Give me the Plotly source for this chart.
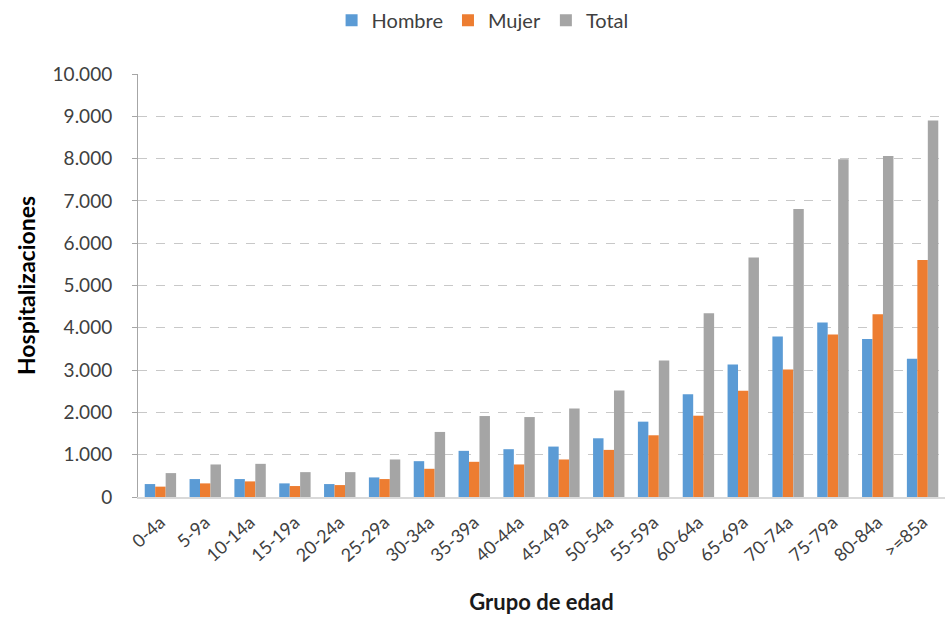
import plotly.graph_objects as go

grupos = ["0-4a", "5-9a", "10-14a", "15-19a", "20-24a", "25-29a", "30-34a", "35-39a",
          "40-44a", "45-49a", "50-54a", "55-59a", "60-64a", "65-69a", "70-74a",
          "75-79a", "80-84a", ">=85a"]
hombre = [306, 424, 424, 322, 306, 463, 847, 1091, 1130, 1192, 1388, 1781, 2432,
          3130, 3797, 4126, 3734, 3271]
mujer = [245, 322, 369, 259, 282, 424, 667, 832, 769, 887, 1114, 1459, 1922,
         2510, 3012, 3844, 4322, 5600]
total = [565, 769, 784, 588, 588, 887, 1538, 1914, 1890, 2094, 2518, 3224, 4345,
         5663, 6808, 7985, 8064, 8900]

series = [("Hombre", hombre, "#5B9BD5"), ("Mujer", mujer, "#ED7D31"), ("Total", total, "#A5A5A5")]

fig = go.Figure()
for name, vals, color in series:
    fig.add_trace(go.Bar(x=grupos, y=vals, name=name, marker_color=color,
                         marker_line_width=0))

font = "Lato, 'Open Sans', sans-serif"
fig.update_layout(
    width=946, height=618,
    margin=dict(l=138, r=1, t=72, b=121),
    paper_bgcolor="white", plot_bgcolor="white",
    barmode="group", bargap=0.3, bargroupgap=0,
    separators=",.",
    font=dict(family=font, size=18, color="#404040"),
    legend=dict(orientation="h", x=0.427, xanchor="center", y=1.127, yanchor="middle",
                font=dict(size=20, color="#404040"), itemwidth=30, traceorder="normal"),
    xaxis=dict(
        tickangle=-42, tickfont=dict(size=18), ticklabelstandoff=6,
        showline=True, linecolor="#D9D9D9", linewidth=2,
        title=dict(text="<b>Grupo de edad</b>", font=dict(size=22, color="#1a1a1a"), standoff=30),
    ),
    yaxis=dict(
        range=[0, 10000], dtick=1000, tickformat=",d",
        showgrid=True, gridcolor="#C8C8C8", griddash="dash", gridwidth=1,
        showline=True, linecolor="#A6A6A6", linewidth=1,
        ticks="outside", ticklen=5, tickcolor="#A6A6A6", ticklabelstandoff=16,
        tickfont=dict(size=19), zeroline=False,
        title=dict(text="<b>Hospitalizaciones</b>", font=dict(size=23, color="#000000"), standoff=10),
    ),
)

fig.write_html("out.html", config={"displayModeBar": False},
               post_script="document.body.style.margin='0';")
